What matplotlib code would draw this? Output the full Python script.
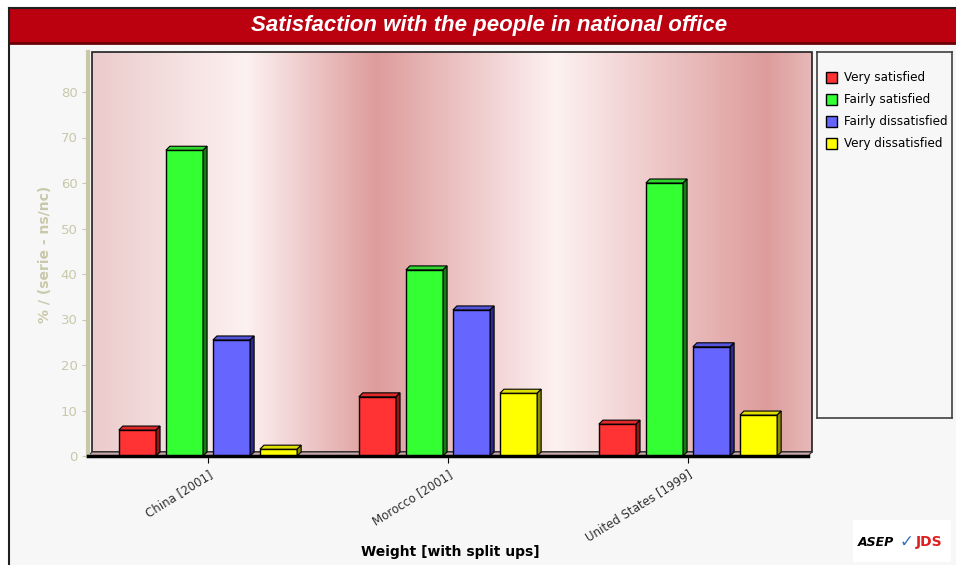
import numpy as np
import matplotlib
matplotlib.use("Agg")
import matplotlib.pyplot as plt
from matplotlib.patches import Rectangle, Polygon

# data
countries = ["China [2001]", "Morocco [2001]", "United States [1999]"]
series = ["Very satisfied", "Fairly satisfied", "Fairly dissatisfied", "Very dissatisfied"]
very_sat = [5.7, 13.0, 7.0]
fairly_sat = [67.2, 40.9, 60.0]
fairly_dis = [25.5, 32.1, 24.0]
very_dis = [1.5, 13.8, 9.0]
values = [very_sat, fairly_sat, fairly_dis, very_dis]

face = ["#ff3333", "#33ff33", "#6666ff", "#ffff00"]
top_c = ["#e02a2a", "#2ed62e", "#5555dd", "#e0e000"]
side_c = ["#8c1a1a", "#1a7a1a", "#2a2a8c", "#8c8c00"]

W, H = 956, 565
fig = plt.figure(figsize=(W / 100, H / 100), dpi=100)
fig.patch.set_facecolor("white")

def fx(px):
    return px / W

def fy(py):
    return 1 - py / H

# frame + title bar
bg = fig.add_axes([0, 0, 1, 1], zorder=-10)
bg.set_xlim(0, W)
bg.set_ylim(H, 0)
bg.axis("off")
bg.add_patch(Rectangle((9, 8), W, H, facecolor="#f7f7f7", edgecolor="none"))
bg.plot([9, 9], [8, H], color="#202020", lw=1.5)
bg.plot([9, W], [8, 8], color="#202020", lw=1.5)
bg.add_patch(Rectangle((10, 9), W, 34, facecolor="#bb0010", edgecolor="none"))
bg.plot([10, W], [43, 43], color="#6a0008", lw=2)
bg.text(489, 26, "Satisfaction with the people in national office", color="white",
        fontsize=16, fontstyle="italic", fontweight="bold", ha="center", va="center",
        family="Liberation Sans")

# main axes
ax = fig.add_axes([fx(88), fy(456), fx(720), 404 / H])
ymax = 404 / 4.55
ax.set_xlim(-0.5, 2.5)
ax.set_ylim(0, ymax)
ax.patch.set_alpha(0)

# back wall gradient (slightly offset for the 3d look)
ddx = 4 / 240
ddy = 4 / 4.55
stops_x = [-0.5, 0.16, 0.7, 1.45, 2.33, 2.5]
stops = np.array([[235, 202, 202], [253, 241, 241], [222, 156, 156],
                  [253, 241, 241], [222, 156, 156], [230, 182, 182]]) / 255
xs = np.linspace(-0.5 + ddx, 2.5 + ddx, 600)
grad = np.stack([np.interp(xs, stops_x, stops[:, k]) for k in range(3)], axis=-1)
ax.imshow(grad[np.newaxis, :, :], extent=[-0.5 + ddx, 2.5 + ddx, ddy, ymax],
          aspect="auto", zorder=0, clip_on=False)
ax.add_patch(Rectangle((-0.5 + ddx, ddy), 3, ymax - ddy, fill=False,
                       edgecolor="#202020", lw=1.2, zorder=1, clip_on=False))
ax.add_patch(Polygon([[-0.5, 0], [2.5, 0], [2.5 + ddx, ddy], [-0.5 + ddx, ddy]],
                     closed=True, facecolor="#c8a8a8", edgecolor="#303030", lw=0.8,
                     zorder=1, clip_on=False))

width = 0.155
offsets = [-0.294, -0.098, 0.098, 0.294]
x = np.arange(len(countries))
for i, vals in enumerate(values):
    xpos = x + offsets[i]
    bars = ax.bar(xpos, vals, width=width, color=face[i], edgecolor="black",
                  linewidth=1.0, zorder=3, label=series[i])
    for b in bars:
        x0, w, h = b.get_x(), b.get_width(), b.get_height()
        ax.add_patch(Polygon([[x0, h], [x0 + ddx, h + ddy], [x0 + w + ddx, h + ddy], [x0 + w, h]],
                             closed=True, facecolor=top_c[i], edgecolor="black", lw=0.8, zorder=3))
        ax.add_patch(Polygon([[x0 + w, 0], [x0 + w + ddx, ddy], [x0 + w + ddx, h + ddy], [x0 + w, h]],
                             closed=True, facecolor=side_c[i], edgecolor="black", lw=0.8, zorder=3))

for s in ["top", "right"]:
    ax.spines[s].set_visible(False)
ax.spines["left"].set_color("#c8c8a8")
ax.spines["left"].set_linewidth(3)
ax.spines["bottom"].set_color("black")
ax.spines["bottom"].set_linewidth(2.5)
ax.spines["bottom"].set_zorder(4)

ax.set_yticks(range(0, 81, 10))
ax.tick_params(axis="y", colors="#c8c8aa", labelsize=9.5, length=4)
ax.set_xticks(x)
ax.set_xticklabels(countries, rotation=32, ha="right", rotation_mode="anchor",
                   fontsize=8.5, color="#303030")
ax.tick_params(axis="x", length=5, color="black")
ax.set_ylabel("% / (serie - ns/nc)", color="#c8c8aa", fontsize=10, fontweight="bold",
              labelpad=6)
fig.text(fx(450), fy(552), "Weight [with split ups]", fontsize=10, fontweight="bold",
         ha="center", va="center")

# legend box
lg = fig.add_axes([fx(817), fy(418), fx(135), 366 / H])
lg.set_xlim(0, 135)
lg.set_ylim(366, 0)
lg.set_xticks([])
lg.set_yticks([])
lg.set_facecolor("#f7f7f7")
for s in lg.spines.values():
    s.set_color("#404040")
    s.set_linewidth(1.2)
for i, name in enumerate(series):
    yy = 25 + i * 22
    lg.add_patch(Rectangle((9, yy - 5), 11, 11, facecolor=face[i], edgecolor="black", lw=1))
    lg.text(27, yy + 0.5, name, fontsize=9.5, va="center", ha="left", color="black",
            family="Liberation Sans Narrow", fontstretch="condensed")

# logo
bg.add_patch(Rectangle((853, 520), 98, 42, facecolor="white", edgecolor="none"))
bg.text(858, 542, "ASEP", fontsize=9, fontweight="bold", color="black", va="center",
        fontstyle="italic")
bg.text(900, 542, "\u2713", fontsize=12, color="#3070c0", va="center", family="DejaVu Sans")
bg.text(916, 542, "JDS", fontsize=10, fontweight="bold", color="#e02020", va="center")

fig.savefig("out.png", dpi=100, facecolor=fig.get_facecolor())
